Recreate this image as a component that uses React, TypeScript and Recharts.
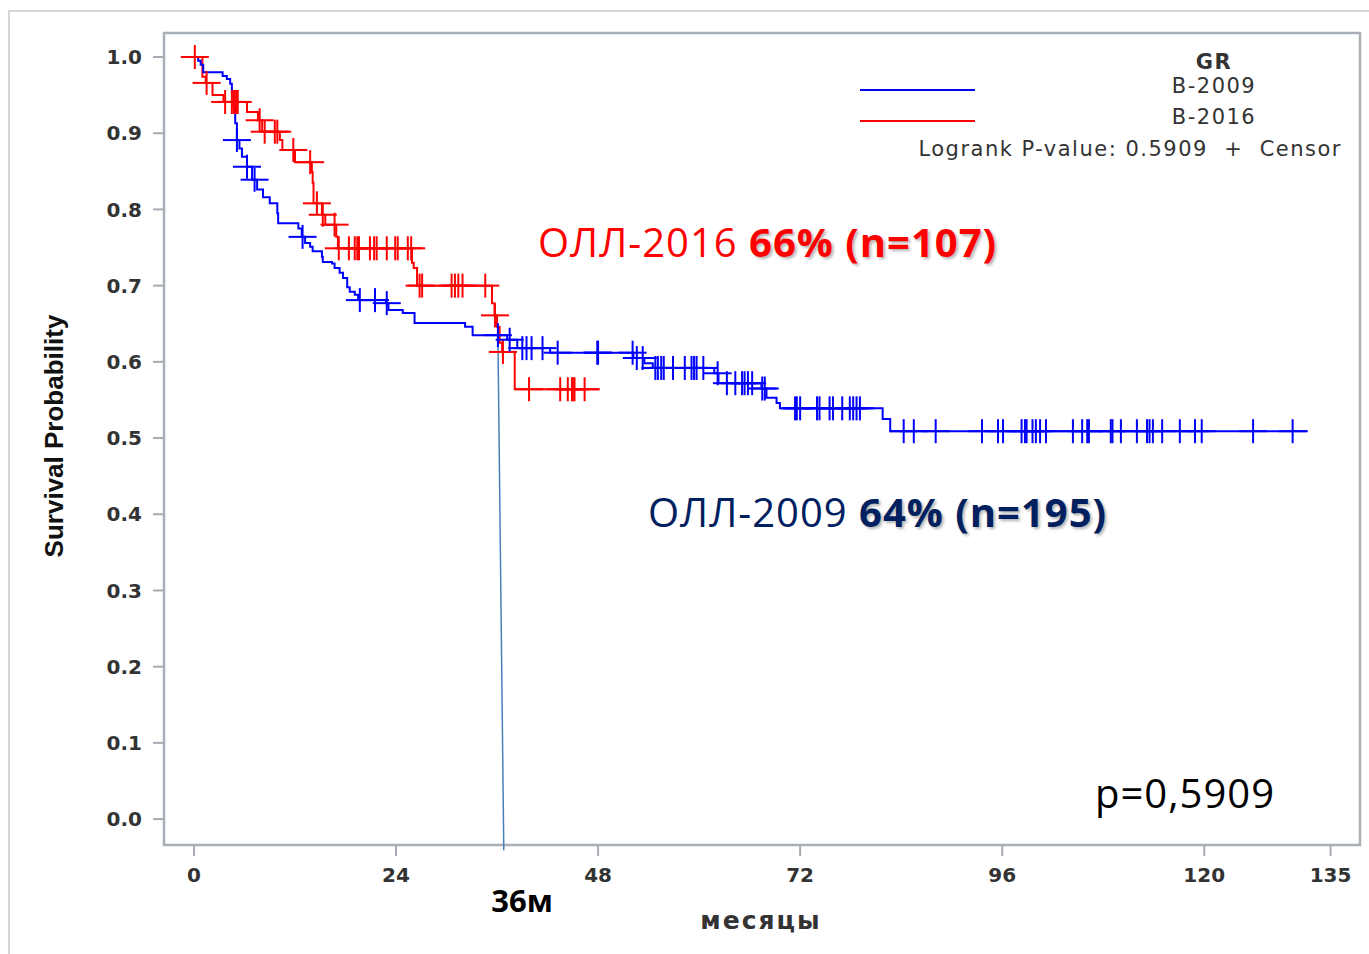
import React from "react";
import {
  ComposedChart, Line, Scatter, XAxis, YAxis, ReferenceArea, ReferenceLine
} from "recharts";

// B-2009 (blue) Kaplan-Meier steps: time in months, survival probability
const b2009Time = [0, 0.5, 0.8, 1.1, 3.4, 3.9, 4.3, 4.5, 4.7, 4.9, 5.1, 5.4, 5.7, 6.3, 6.9, 7.5, 8.2, 9.0, 9.9, 10.0,
  12.4, 12.8, 13.2, 13.8, 14.1, 15.2, 15.3, 16.4, 16.7, 17.3, 17.7, 18.2, 18.5, 19.1, 19.5, 22.8, 23.1, 24.8, 26.2,
  32.2, 33.1, 37.2, 38.4, 42.3, 52.2, 53.5, 54.5, 61.8, 62.3, 67.4, 68.0, 69.2, 69.6, 81.8, 82.7, 132.3];
const b2009Surv = [1.0, 0.995, 0.99, 0.98, 0.975, 0.971, 0.965, 0.955, 0.935, 0.913, 0.891, 0.88, 0.869, 0.856, 0.839, 0.826, 0.816, 0.808, 0.795, 0.782,
  0.775, 0.764, 0.756, 0.751, 0.745, 0.738, 0.731, 0.729, 0.723, 0.717, 0.71, 0.698, 0.692, 0.688, 0.681, 0.677, 0.668, 0.664, 0.651,
  0.646, 0.635, 0.629, 0.618, 0.612, 0.605, 0.598, 0.592, 0.585, 0.572, 0.565, 0.553, 0.546, 0.539, 0.525, 0.509, 0.509];
const b2009Censor = [5.1, 6.3, 7.2, 12.9, 19.7, 21.5, 22.9, 36.1, 37.5, 39.0, 39.5, 40.1, 41.4, 43.2, 47.9, 48.0, 52.1, 52.6, 53.3,
  54.8, 55.1, 55.5, 55.8, 56.9, 58.3, 59.1, 59.4, 59.7, 60.5, 62.2, 63.3, 64.3, 65.1, 65.4, 65.8, 66.3, 67.5, 67.8, 71.4, 71.6, 72.0,
  74.0, 74.3, 75.5, 75.9, 77.0, 77.9, 78.3, 78.7, 79.1, 84.3, 85.5, 88.1, 93.6, 95.5, 96.1, 98.3, 98.7, 98.9, 99.6, 100.0, 100.5,
  101.2, 104.4, 105.5, 106.1, 106.3, 108.9, 109.1, 110.1, 112.0, 113.2, 113.5, 113.9, 115.0, 117.1, 118.9, 119.7, 125.8, 130.5];

// B-2016 (red)
const b2016Time = [0, 1.0, 1.4, 2.2, 3.5, 6.3, 7.6, 8.1, 10.2, 10.5, 12.0, 14.0, 14.1, 14.2, 15.2, 15.6, 16.9, 17.1,
  25.9, 26.1, 26.5, 35.4, 35.7, 36.0, 36.3, 36.6, 38.1, 48.2];
const b2016Surv = [1.0, 0.974, 0.966, 0.95, 0.941, 0.928, 0.917, 0.902, 0.891, 0.878, 0.862, 0.849, 0.835, 0.808, 0.793, 0.78, 0.764, 0.749,
  0.73, 0.723, 0.7, 0.677, 0.661, 0.646, 0.625, 0.613, 0.564, 0.564];
const b2016Censor = [0.1, 1.5, 3.7, 4.5, 4.75, 5.0, 5.2, 7.8, 8.4, 9.6, 9.9, 11.8, 13.8, 14.6, 15.3, 16.7, 17.2, 18.4, 19.1, 19.4,
  19.6, 20.9, 21.4, 21.7, 22.9, 23.9, 24.2, 25.4, 25.8, 26.8, 27.1, 30.6, 31.0, 31.4, 31.9, 34.6, 35.75, 36.7, 39.8, 43.5, 44.4,
  44.9, 45.0, 45.2, 46.4];

const xTicks = [0, 24, 48, 72, 96, 120, 135];
const yTicks = [0, 0.1, 0.2, 0.3, 0.4, 0.5, 0.6, 0.7, 0.8, 0.9, 1.0];
const xDomain: [number, number] = [-3.56, 138.5];
const yDomain: [number, number] = [-0.034, 1.0315];

const steps = (t: number[], s: number[]) => t.map((x, i) => ({ t: x, s: s[i] }));
const survAt = (t: number[], s: number[], x: number) => {
  let v = s[0];
  for (let i = 0; i < t.length; i++) if (t[i] <= x) v = s[i];
  return v;
};
const censored = (c: number[], t: number[], s: number[]) => c.map(x => ({ t: x, s: survAt(t, s, x) }));

const blueSteps = steps(b2009Time, b2009Surv);
const redSteps = steps(b2016Time, b2016Surv);
const blueCensor = censored(b2009Censor, b2009Time, b2009Surv);
const redCensor = censored(b2016Censor, b2016Time, b2016Surv);

const plus = (color: string) => (p: any) => (
  <g>
    <line x1={p.cx - 14} x2={p.cx + 14} y1={p.cy} y2={p.cy} stroke={color} strokeWidth={2} />
    <line x1={p.cx} x2={p.cx} y1={p.cy - 12} y2={p.cy + 12} stroke={color} strokeWidth={2} />
  </g>
);

function Txt({ x, y, anchor = "start", style, children }: any) {
  const tx = anchor === "middle" ? "-50%" : anchor === "end" ? "-100%" : "0";
  return (
    <div style={{
      position: "absolute", left: x, top: y, transform: `translate(${tx}, -50%)`,
      whiteSpace: "nowrap", lineHeight: 1, ...style
    }}>{children}</div>
  );
}

const tickStyle = { fill: "#333", fontSize: 20, fontWeight: 700, fontFamily: "DejaVu Sans" };
const legendFont = { fontFamily: "DejaVu Sans", fontSize: 21, color: "#333", letterSpacing: 1.5 };
const shadow = "2px 2px 3px rgba(0,0,0,0.3)";

export default function App() {
  return (
    <div style={{ position: "absolute", left: 0, top: 0, width: 1369, height: 954, background: "#fff", overflow: "hidden" }}>
      <div style={{ position: "absolute", left: 8, top: 10, right: 0, bottom: 0, borderTop: "2px solid #d6d6d6", borderLeft: "2px solid #d6d6d6" }} />
      <ComposedChart width={1369} height={954} margin={{ top: 33, right: 9, left: 0, bottom: 49 }} style={{ position: "absolute", left: 0, top: 0 }}>
        <XAxis type="number" dataKey="t" domain={xDomain} ticks={xTicks} allowDataOverflow
          axisLine={false} tickLine={{ stroke: "#a6acb3", strokeWidth: 2 }} tickSize={11} tickMargin={12}
          tick={tickStyle} height={60} />
        <YAxis type="number" dataKey="s" domain={yDomain} ticks={yTicks} allowDataOverflow
          axisLine={false} tickLine={{ stroke: "#a6acb3", strokeWidth: 2 }} tickSize={11} tickMargin={11}
          tick={tickStyle} width={164} tickFormatter={(v: number) => v.toFixed(1)} />
        <ReferenceArea x1={xDomain[0]} x2={xDomain[1]} y1={yDomain[0]} y2={yDomain[1]}
          fill="none" stroke="#a9afb6" strokeWidth={2.5} ifOverflow="visible" />
        <Line data={redSteps} type="stepAfter" dataKey="s" stroke="#ff0000" strokeWidth={2} dot={false} isAnimationActive={false} />
        <Line data={blueSteps} type="stepAfter" dataKey="s" stroke="#0000ff" strokeWidth={2} dot={false} isAnimationActive={false} />
        <Scatter data={redCensor} dataKey="s" shape={plus("#ff0000")} isAnimationActive={false} />
        <Scatter data={blueCensor} dataKey="s" shape={plus("#0000ff")} isAnimationActive={false} />
        <ReferenceLine segment={[{ x: 36.1, y: 0.635 }, { x: 36.8, y: -0.041 }]} stroke="#4a7ebb" strokeWidth={1.5} ifOverflow="visible" />
      </ComposedChart>

      <div style={{ position: "absolute", left: 860, top: 89, width: 115, height: 2, background: "#0000ff" }} />
      <div style={{ position: "absolute", left: 860, top: 120, width: 115, height: 2, background: "#ff0000" }} />
      <Txt x={1214} y={62} anchor="middle" style={{ ...legendFont, fontWeight: 700 }}>GR</Txt>
      <Txt x={1214} y={86} anchor="middle" style={legendFont}>B-2009</Txt>
      <Txt x={1214} y={117} anchor="middle" style={legendFont}>B-2016</Txt>
      <Txt x={1342} y={149} anchor="end" style={legendFont}>Logrank P-value: 0.5909&nbsp;&nbsp;+&nbsp;&nbsp;Censor</Txt>

      <Txt x={538} y={242} style={{ fontFamily: "Open Sans", fontSize: 40, color: "#ff0000", letterSpacing: 1 }}>
        ОЛЛ-2016 <b style={{ textShadow: shadow }}>66% (n=107)</b>
      </Txt>
      <Txt x={648} y={512} style={{ fontFamily: "Open Sans", fontSize: 40, color: "#002060", letterSpacing: 1 }}>
        ОЛЛ-2009 <b style={{ textShadow: shadow }}>64% (n=195)</b>
      </Txt>
      <Txt x={1095} y={793} style={{ fontFamily: "Open Sans", fontSize: 40, color: "#000", letterSpacing: 1 }}>p=0,5909</Txt>
      <Txt x={522} y={900} anchor="middle" style={{ fontFamily: "Open Sans", fontSize: 31, fontWeight: 700, color: "#000" }}>36м</Txt>
      <Txt x={761} y={920} anchor="middle" style={{ fontFamily: "DejaVu Sans", fontSize: 25, fontWeight: 700, color: "#333", letterSpacing: 2 }}>месяцы</Txt>
      <Txt x={54} y={436} anchor="middle" style={{
        fontFamily: "Liberation Sans", fontSize: 26, fontWeight: 700, color: "#111",
        transform: "translate(-50%, -50%) rotate(-90deg)"
      }}>Survival Probability</Txt>
    </div>
  );
}
